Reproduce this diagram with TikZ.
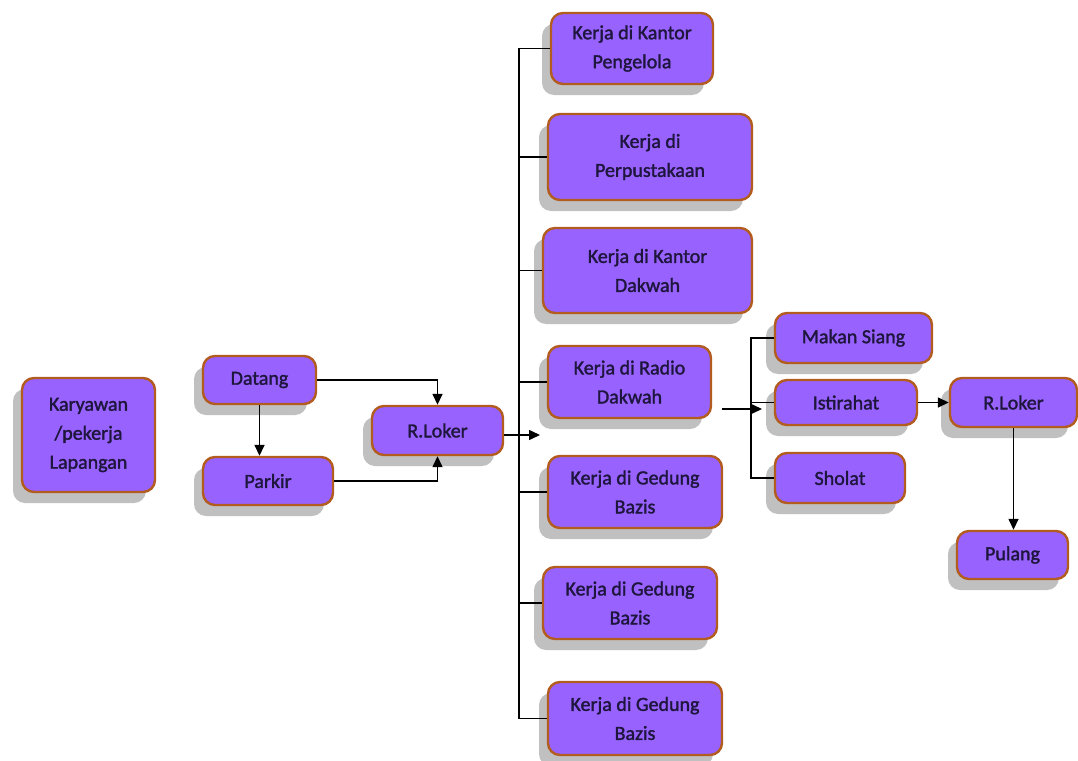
\documentclass[tikz,border=0pt]{standalone}
\usepackage{fontspec}
\setmainfont{Carlito}[BoldFont=Carlito, BoldFeatures={FakeBold=1.6}]
\usetikzlibrary{arrows.meta,shadows}
\definecolor{boxfill}{RGB}{152,98,255}
\definecolor{boxline}{RGB}{178,92,32}
\definecolor{boxtext}{RGB}{30,22,60}
\definecolor{shadowgray}{RGB}{192,192,192}
\begin{document}
\begin{tikzpicture}[x=1pt,y=-1pt,
  box/.style={draw=boxline, line width=2.4pt, fill=boxfill, rounded corners=12pt,
    text=boxtext, align=center, inner sep=0pt,
    font=\fontsize{20}{29}\selectfont\bfseries,
    drop shadow={shadow xshift=-9pt, shadow yshift=-11pt, fill=shadowgray, opacity=1}},
  link/.style={draw=black, line width=1.5pt},
  arr/.style={link, -{Triangle[length=11pt,width=10pt]}}]
\useasboundingbox (0,0) rectangle (1078,760);

% left column
\node[box, minimum width=133pt, minimum height=114pt] (kary) at (88.5,435) {Karyawan\\/pekerja\\Lapangan};
\node[box, minimum width=113pt, minimum height=48pt] (datang) at (259.5,380) {Datang};
\node[box, minimum width=130pt, minimum height=48pt] (parkir) at (268,481) {Parkir};
\node[box, minimum width=131pt, minimum height=49pt] (rloker) at (437.5,430.5) {R.Loker};

% work places
\node[box, minimum width=162pt, minimum height=71pt] (k1) at (632,48.5) {Kerja di Kantor\\Pengelola};
\node[box, minimum width=204pt, minimum height=86pt] (k2) at (650,157) {Kerja di\\Perpustakaan};
\node[box, minimum width=209pt, minimum height=85pt] (k3) at (647.5,270.5) {Kerja di Kantor\\Dakwah};
\node[box, minimum width=163pt, minimum height=72pt] (k4) at (629.5,382) {Kerja di Radio\\Dakwah};
\node[box, minimum width=174pt, minimum height=72pt] (k5) at (635,492) {Kerja di Gedung\\Bazis};
\node[box, minimum width=174pt, minimum height=72pt] (k6) at (630,603) {Kerja di Gedung\\Bazis};
\node[box, minimum width=174pt, minimum height=73pt] (k7) at (635,718.5) {Kerja di Gedung\\Bazis};

% break activities
\node[box, minimum width=157pt, minimum height=50pt] (makan) at (853.5,338) {Makan Siang};
\node[box, minimum width=142pt, minimum height=45pt] (istirahat) at (846,402.5) {Istirahat};
\node[box, minimum width=130pt, minimum height=50pt] (sholat) at (840,478) {Sholat};
\node[box, minimum width=127pt, minimum height=49pt] (rloker2) at (1013.5,402.5) {R.Loker};
\node[box, minimum width=111pt, minimum height=48pt] (pulang) at (1012.5,555) {Pulang};

% helper points
\coordinate (sp) at (519,0);
\coordinate (sp2) at (751,0);
\coordinate (rtip) at (540,435);
\coordinate (a0) at (722,409);
\coordinate (a1) at (762,409);

% arrival flow
\draw[arr] (datang.south) -- (datang.south |- parkir.north);
\draw[arr] (datang.east) -| (rloker.north);
\draw[arr] (parkir.east) -| (rloker.south);
\draw[arr] (rloker.east |- rtip) -- (rtip);

% spine to work places
\draw[link] (k1.west) -- (k1.west -| sp) -- (k7.west -| sp) -- (k7.west);
\foreach \k in {k2,k3,k4,k5,k6}
  \draw[link] (\k.west) -- (\k.west -| sp);

% spine to break activities
\draw[arr] (a0) -- (a1);
\draw[link] (makan.west) -- (makan.west -| sp2) -- (sholat.west -| sp2) -- (sholat.west);
\draw[link] (istirahat.west) -- (istirahat.west -| sp2);
\draw[arr] (istirahat.east) -- (rloker2.west);
\draw[arr] (rloker2.south) -- (rloker2.south |- pulang.north);
\end{tikzpicture}
\end{document}
